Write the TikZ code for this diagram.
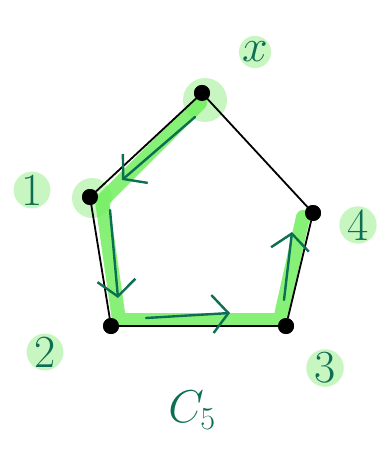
\documentclass[tikz,border=0pt]{standalone}
\RequirePackage{fix-cm}
\usepackage{xcolor}
\usepackage{tikz}
\usetikzlibrary{arrows.meta,calc,positioning}
\definecolor{ink}{RGB}{12,110,82}
\definecolor{marker}{RGB}{105,238,85}
\definecolor{halo}{RGB}{200,246,192}

\begin{document}
\begin{tikzpicture}[x=1pt,y=-1pt,
  vertex/.style={circle,fill=black,inner sep=0pt,minimum size=16pt},
  lab/.style={text=ink,fill=halo,circle,inner sep=0pt,font=\fontsize{46}{46}\selectfont},
  hilite/.style={draw=marker,line width=14pt,line cap=round,line join=round,opacity=0.8},
  walk/.style={draw=ink,line width=2.4pt,line cap=round,-{Straight Barb[length=16pt,width=38pt,line width=2.4pt]}}]
\useasboundingbox (0,0) rectangle (389,449);
% halos behind two vertices
\fill[halo] (205,100) circle (22);
\fill[halo] (92,198) circle (20);
% vertices of the cycle
\node[vertex] (x) at (202,93) {};
\node[vertex] (v1) at (90,197) {};
\node[vertex] (v2) at (111,326) {};
\node[vertex] (v3) at (286,326) {};
\node[vertex] (v4) at (313,213) {};
% highlighted walk x-1-2-3-4
\draw[hilite] ($(x)+(-2,10)$) -- ($(v1)+(12,4)$) -- ($(v2)+(8,-6)$) -- ($(v3)+(-6,-6)$) -- ($(v4)+(-10,4)$);
% edges
\draw[line width=1.8pt] (x) -- (v1) -- (v2) -- (v3) -- (v4) -- (x);
\node[vertex] at (x) {};
\node[vertex] at (v1) {};
\node[vertex] at (v2) {};
\node[vertex] at (v3) {};
\node[vertex] at (v4) {};
% direction of the walk
\coordinate (a1s) at (195,117);
\coordinate (a1e) at (122,180);
\coordinate (a2s) at (110,210);
\coordinate (a2e) at (118,298);
\coordinate (a3s) at (146,318);
\coordinate (a3e) at (230,313);
\coordinate (a4s) at (284,300);
\coordinate (a4e) at (292,232);
\draw[walk] (a1s) -- (a1e);
\draw[walk] (a2s) -- (a2e);
\draw[walk] (a3s) -- (a3e);
\draw[walk] (a4s) -- (a4e);
% labels
\node[lab] (lx) at (255,52) {$x$};
\node[lab] (l1) at (32,190) {1};
\node[lab] (l2) at (45,352) {2};
\node[lab] (l3) at (325,368) {3};
\node[lab] (l4) at (358,225) {4};
\node[text=ink,font=\fontsize{46}{46}\selectfont] (c5) at (192,410) {$C_5$};
\end{tikzpicture}
\end{document}
